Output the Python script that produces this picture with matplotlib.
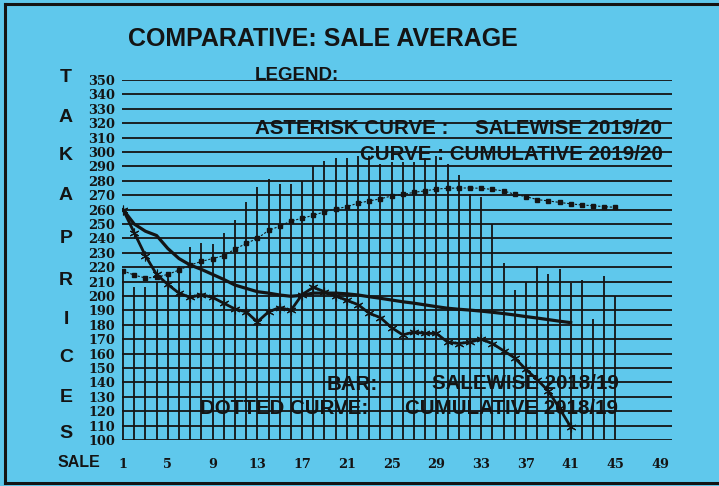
import matplotlib
matplotlib.use("Agg")
import matplotlib.pyplot as plt
from matplotlib.lines import Line2D

# ---------------- data ----------------
bar_sales = list(range(1, 46))
bar_salewise_1819 = [217, 206, 206, 210, 214, 221, 234, 237, 236, 244,
                     253, 265, 276, 281, 278, 278, 280, 290, 294, 296,
                     296, 297, 297, 292, 293, 293, 293, 296, 297, 292,
                     284, 271, 269, 250, 223, 204, 210, 221, 215, 219,
                     209, 211, 184, 214, 200]

dotted_sales = list(range(1, 46))
dotted_cumulative_1819 = [217.5, 214.5, 212.5, 213, 215, 218, 221.5, 224, 226, 228,
                          232.5, 236.5, 240, 245.5, 248.5, 252, 254, 256, 258.5, 260.5,
                          262, 264.5, 266, 267.5, 269.5, 270.5, 272, 273, 274.3, 274.8,
                          275, 275, 274.8, 274, 273, 270.6, 269, 267, 266, 265,
                          264, 263.2, 262.7, 262, 261.6]

curve_sales = list(range(1, 42))
asterisk_salewise_1920 = [260, 244, 228, 215, 208, 202, 199, 201, 199, 195,
                          191, 189, 182, 189, 192, 190, 201, 206, 203, 200,
                          197, 194, 188, 185, 178, 173, 175, 174, 174, 168,
                          167, 168, 170, 167, 162, 157, 149, 142, 134, 122,
                          109]
solid_cumulative_1920 = [260, 250, 245, 242, 233, 226, 221.5, 218.5, 215, 211.5,
                         207.6, 205.3, 203, 202, 200.7, 199.8, 200.5, 202, 202, 202,
                         201.5, 200.7, 199.5, 198.4, 197.2, 196, 195, 193.8, 192.6, 191.5,
                         190.8, 190.2, 189.5, 188.7, 187.8, 186.8, 185.7, 184.7, 183.6, 182.5,
                         181.5]

y_ticks = list(range(100, 351, 10))
x_ticks = [1, 5, 9, 13, 17, 21, 25, 29, 33, 37, 41, 45, 49]
side_letters = ["T", "A", "K", "A", "P", "R", "I", "C", "E", "S"]
side_letter_y = [77, 118, 155, 195, 238, 280, 320, 357, 397, 433]

# ---------------- figure ----------------
W, H = 719, 486
BG = "#5fc8ec"
INK = "#141414"
fig = plt.figure(figsize=(W / 100, H / 100), dpi=100, facecolor=BG)

def fx(px):
    return px / W

def fy(py):
    return 1 - py / H

ax_left, ax_right, ax_top, ax_bot = 121.9, 672.0, 80.0, 440.0
ax = fig.add_axes([fx(ax_left), fy(ax_bot), (ax_right - ax_left) / W, (ax_bot - ax_top) / H])
ax.set_facecolor(BG)
ax.set_xlim(0.9, 50.05)
ax.set_ylim(100, 350)
for s in ax.spines.values():
    s.set_visible(False)

# horizontal ruled lines
ax.hlines(y_ticks, 0.9, 50.05, colors=INK, lw=1.3, zorder=1)
# bars as vertical lines
ax.vlines(bar_sales, 100, bar_salewise_1819, colors=INK, lw=1.3, zorder=2)

# dotted curve (cumulative 2018/19)
ax.plot(dotted_sales, dotted_cumulative_1819, color=INK, lw=0.8, ls=(0, (2, 1.5)),
        marker="s", ms=2.8, zorder=4)
# solid curve (cumulative 2019/20)
ax.plot(curve_sales, solid_cumulative_1920, color=INK, lw=2.3, zorder=4)
# asterisk curve (salewise 2019/20)
ax.plot(curve_sales, asterisk_salewise_1920, color=INK, lw=2.0,
        marker=(6, 2, 0), ms=7, mew=0.8, zorder=5)

serif = dict(family="DejaVu Serif", weight="bold", size=9.3)
ax.set_yticks(y_ticks)
ax.set_yticklabels([str(v) for v in y_ticks], fontdict=serif, color=INK)
ax.set_xticks(x_ticks)
ax.set_xticklabels([str(v) for v in x_ticks], fontdict=serif, color=INK)
ax.tick_params(axis="y", length=0, pad=5)
ax.tick_params(axis="x", length=0, pad=13)

sans = dict(family="Liberation Sans", weight="bold", color=INK)
LG = 14.8

fig.text(fx(128), fy(39), "COMPARATIVE: SALE AVERAGE", ha="left", va="center", size=18, **sans)
fig.text(fx(255), fy(75), "LEGEND:", ha="left", va="center", size=13.5, **sans)
fig.text(fx(255), fy(128), "ASTERISK CURVE :", ha="left", va="center", size=LG, **sans)
fig.text(fx(475), fy(128), "SALEWISE 2019/20", ha="left", va="center", size=LG, **sans)
fig.text(fx(360), fy(155), "CURVE : CUMULATIVE 2019/20", ha="left", va="center", size=LG, **sans)
fig.text(fx(327), fy(384), "BAR:", ha="left", va="center", size=LG, **sans)
fig.text(fx(432), fy(383), "SALEWISE 2018/19", ha="left", va="center", size=LG, **sans)
fig.text(fx(200), fy(408), "DOTTED CURVE:", ha="left", va="center", size=LG, **sans)
fig.text(fx(405), fy(408), "CUMULATIVE 2018/19", ha="left", va="center", size=LG, **sans)
fig.text(fx(58), fy(462), "SALE", ha="left", va="center", size=11.5, **sans)

for letter, py in zip(side_letters, side_letter_y):
    fig.text(fx(66), fy(py), letter, ha="center", va="center", size=14, **sans)

# scanned page border
fig.add_artist(Line2D([fx(5), fx(719)], [fy(4), fy(4)], color=INK, lw=2.2))
fig.add_artist(Line2D([fx(5), fx(5)], [fy(4), fy(483)], color=INK, lw=2.2))
fig.add_artist(Line2D([fx(5), fx(719)], [fy(483), fy(483)], color=INK, lw=2.2))

fig.savefig("out.png", dpi=100, facecolor=BG)
